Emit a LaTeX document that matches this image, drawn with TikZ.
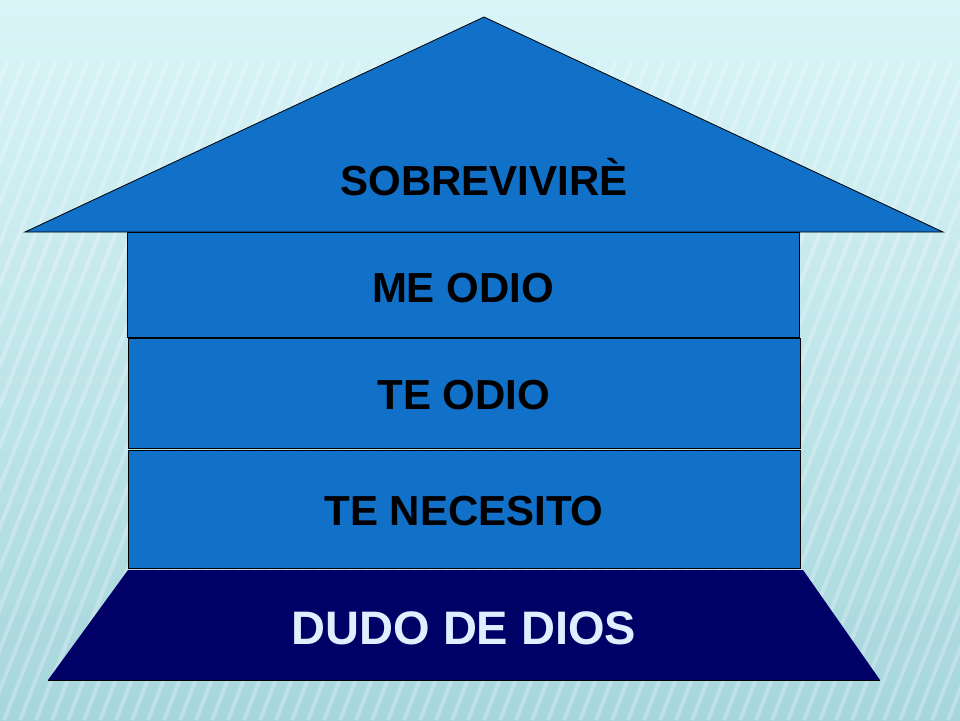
\documentclass[tikz,border=0pt]{standalone}
\usepackage{fontspec}
\setmainfont{Liberation Sans}
\usetikzlibrary{calc}
\usetikzlibrary{positioning}
\usetikzlibrary{fadings}
\definecolor{bgtop}{RGB}{218,245,248}
\definecolor{bgbot}{RGB}{166,214,220}
\definecolor{blockblue}{RGB}{17,112,200}
\definecolor{navy}{RGB}{0,0,102}
\definecolor{paletext}{RGB}{222,240,255}

\begin{document}
\begin{tikzpicture}
	[x=1pt, y=-1pt,
	block/.style = {draw=black, fill=blockblue, line width=0.8pt},
	label/.style = {anchor=base, font=\bfseries\fontsize{42}{48}\selectfont, text=black},
	bigtext/.style = {anchor=base, font=\bfseries\fontsize{47}{54}\selectfont, text=paletext}
	]
	\useasboundingbox (0,0) rectangle (960,720);
	% background
	\shade[top color=bgtop, bottom color=bgbot] (0,0) rectangle (960,720);
	\begin{scope}[transparency group, path fading=north]
		\clip (0,60) rectangle (960,720);
		\foreach \i in {-300,-284,...,1000}
			\draw[white, opacity=0.25, line width=4pt] (\i,720) -- ({\i+260},60);
	\end{scope}

	\coordinate (a) at (25,232);
	\coordinate (b) at (484,17);
	\coordinate (c) at (943,232);
	\coordinate (d) at (128,570);
	\coordinate (e) at (803,570);
	\coordinate (f) at (880,680);
	\coordinate (g) at (48,680);

	% roof
	\draw[block] (a) -- (b) -- (c) -- cycle;
	% three floors
	\draw[block] (127,232) rectangle (799,337);
	\draw[block] (128,338) rectangle (800,448);
	\draw[block] (128,450) rectangle (800,568);
	% base
	\fill[navy] (d) -- (e) -- (f) -- (g) -- cycle;
	\draw[black, line width=0.6pt] (g) -- (f);

	\node[label] (roof) at (484,195) {SOBREVIVIRÈ};
	\node[label] (hate1) at (463,302) {ME ODIO};
	\node[label] (hate2) at (464,409) {TE ODIO};
	\node[label] (need) at (464,525) {TE NECESITO};
	\node[bigtext] (doubt) at (464,644) {DUDO DE DIOS};
\end{tikzpicture}
\end{document}
